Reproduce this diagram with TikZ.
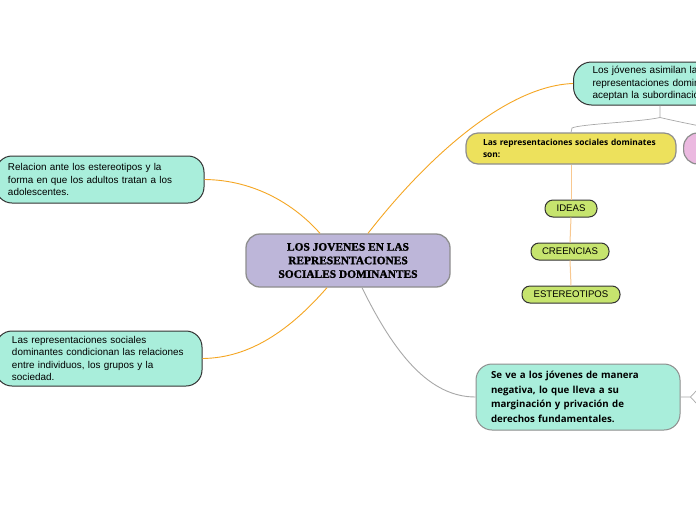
\documentclass[tikz,border=0pt]{standalone}
\usepackage{fontspec}
\setmainfont{Liberation Sans}
\newfontfamily\boldsans{Open Sans}
\newfontfamily\titleserif[BoldFeatures={FakeBold=1.6}]{Liberation Serif}
\usetikzlibrary{calc}
\definecolor{mint}{HTML}{A9EEDB}
\definecolor{lav}{HTML}{BDB6D9}
\definecolor{yel}{HTML}{EDE15C}
\definecolor{pink}{HTML}{EBB9E0}
\definecolor{lgreen}{HTML}{C6E46E}
\definecolor{orng}{HTML}{F5A623}
\definecolor{lorng}{HTML}{F8C890}
\definecolor{gline}{HTML}{A8A8A8}
\definecolor{dborder}{HTML}{333333}
\definecolor{gborder}{HTML}{8E8E8E}
\tikzset{
  x=1pt,y=-1pt,
  mintbox/.style={draw=dborder,fill=mint,line width=1pt,rounded corners=16pt,align=left,inner ysep=0pt,font=\fontsize{9.9}{12.4}\selectfont},
  tagbox/.style={draw=dborder,fill=lgreen,line width=1pt,rounded corners=8pt,inner sep=0pt,minimum height=17pt,font=\fontsize{9.6}{11}\selectfont},
  oline/.style={draw=orng,line width=0.9pt},
  lolines/.style={draw=lorng,line width=1pt},
  gl/.style={draw=gline,line width=0.9pt},
}
\begin{document}
\begin{tikzpicture}
\useasboundingbox (0,0) rectangle (696,520);
\clip (0,0) rectangle (696,520);
\fill[white] (0,0) rectangle (696,520);

% central
\node[draw=gborder,fill=lav,line width=1.3pt,rounded corners=14pt,minimum width=204pt,minimum height=53pt,inner sep=0pt,align=center,
  font=\titleserif\bfseries\fontsize{11.4}{13.6}\selectfont] (c) at (348,260.5)
  {LOS JOVENES EN LAS\\REPRESENTACIONES\\SOCIALES DOMINANTES};

% top right
\node[mintbox,anchor=west,minimum width=200pt,minimum height=43pt,text width=170pt,inner xsep=19pt,rounded corners=18pt,font=\fontsize{10}{12.2}\selectfont] (tr) at (573,83.5)
  {Los jóvenes asimilan las\\representaciones dominantes y\\aceptan la subordinación};

% yellow
\node[draw=gborder,fill=yel,line width=1.2pt,rounded corners=12pt,minimum width=210pt,minimum height=31pt,text width=190pt,inner xsep=10pt,inner ysep=0pt,align=left,
  font=\boldsans\bfseries\fontsize{8.4}{12.6}\selectfont] (y) at (571,148.5)
  {\hspace*{7pt}Las representaciones sociales dominates\\\hspace*{7pt}son:};

% pink
\node[draw=gborder,fill=pink,line width=1.2pt,rounded corners=14pt,minimum width=80pt,minimum height=31pt,anchor=west] (p) at (683,148.5) {};

% tags
\node[tagbox,minimum width=52pt] (i1) at (571,208.5) {IDEAS};
\node[tagbox,minimum width=78pt] (i2) at (570,251.5) {CREENCIAS};
\node[tagbox,minimum width=98pt] (i3) at (571,294.5) {ESTEREOTIPOS};

% left nodes
\node[mintbox,minimum width=208pt,minimum height=47pt,text width=184pt,inner xsep=12pt] (lt) at (100,179.5)
  {Relacion ante los estereotipos y la\\forma en que los adultos tratan a los\\adolescentes.};
\node[mintbox,minimum width=206pt,minimum height=55pt,text width=190pt,inner xsep=8pt] (lb) at (99,358.5)
  {\hspace*{8pt}Las representaciones sociales\\\hspace*{8pt}dominantes condicionan las relaciones\\\hspace*{8pt}entre individuos, los grupos y la\\\hspace*{8pt}sociedad.};

% bottom right
\node[draw=gborder,fill=mint,line width=1pt,rounded corners=16pt,minimum width=204pt,minimum height=66pt,text width=174pt,inner xsep=15pt,inner ysep=0pt,align=left,
  font=\boldsans\bfseries\fontsize{9.7}{14.6}\selectfont] (br) at (578,397)
  {Se ve a los jóvenes de manera\\negativa, lo que lleva a su\\marginación y privación de\\derechos fundamentales.};

% connectors
\coordinate (c1) at ($(c.north)+(-28,0)$);
\coordinate (c2) at ($(c.north)+(20,0)$);
\coordinate (c3) at ($(c.south)+(-21,0)$);
\coordinate (c4) at ($(c.south)+(14,0)$);
\draw[oline] (lt.east) .. controls (255,180) and (295,205) .. (c1);
\draw[oline] (c2) .. controls (425,160) and (505,86) .. (tr.west);
\draw[oline] (c3) .. controls (290,330) and (250,358) .. (lb.east);
\draw[gl] (c4) .. controls (395,355) and (430,397) .. (br.west);

\coordinate (t1) at ($(tr.south west)+(87,0)$);
\coordinate (fork) at ($(t1)+(0,12)$);
\draw[gl,line width=0.7pt] (t1) -- (fork) .. controls (640,122) and (580,124) .. (572,128) -- (y.north);
\draw[gl,line width=0.7pt] (fork) .. controls (675,121) and (690,124) .. (700,126);

\draw[lolines] (y.south) -- (i1.north);
\draw[lolines] (i1.south) -- (i2.north);
\draw[lolines] (i2.south) -- (i3.north);

\coordinate (e1) at ($(br.east)+(10,0)$);
\draw[gl,line width=0.7pt] (br.east) -- (e1) -- (698,389);
\draw[gl,line width=0.7pt] (e1) -- (698,405);
\end{tikzpicture}
\end{document}
